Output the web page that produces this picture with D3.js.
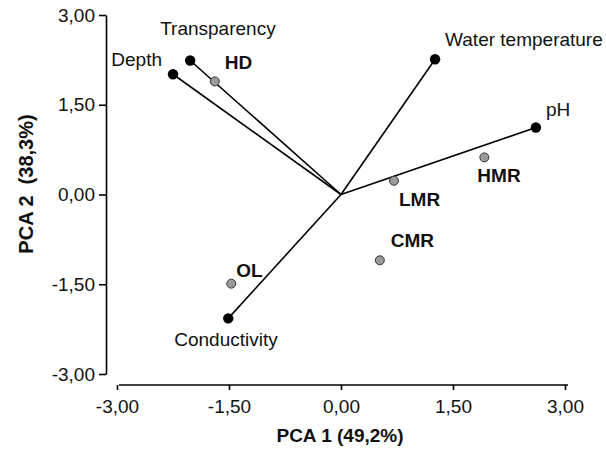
<!DOCTYPE html>
<html>
<head>
<meta charset="utf-8">
<script src="https://cdn.jsdelivr.net/npm/d3@7"></script>
<style>
  body { margin: 0; background: #fff; }
  text { font-family: "Liberation Sans", Arial, sans-serif; }
</style>
</head>
<body>
<div id="plot"></div>
<script>
const W = 606, H = 449;

// Data: variable loadings (black, with vectors) and sites (grey)
const variables = ["Depth", "Transparency", "Water temperature", "pH", "Conductivity"];
const varPC1 = [-2.25, -2.02, 1.26, 2.61, -1.51];
const varPC2 = [2.01, 2.24, 2.26, 1.12, -2.07];

const sites = ["HD", "HMR", "LMR", "CMR", "OL"];
const sitePC1 = [-1.69, 1.92, 0.71, 0.52, -1.47];
const sitePC2 = [1.89, 0.62, 0.23, -1.10, -1.49];

const ticks = [-3, -1.5, 0, 1.5, 3];

// label placement (pixel offsets from each point)
const labelPos = {
  "Depth": [-11, -8, "end"],
  "Transparency": [-30, -25, "start"],
  "Water temperature": [10, -13, "start"],
  "pH": [10, -11, "start"],
  "Conductivity": [-54, 28, "start"],
  "HD": [10, -12, "start"],
  "HMR": [-7, 25, "start"],
  "LMR": [5, 25, "start"],
  "CMR": [11, -13, "start"],
  "OL": [5, -7, "start"]
};

const svg = d3.select("#plot")
  .append("svg")
    .attr("width", W)
    .attr("height", H);

const x = d3.scaleLinear().domain([-3, 3]).range([117, 565]);
const y = d3.scaleLinear().domain([-3, 3]).range([374, 15]);

const fmt = d => d3.format(".2f")(d).replace(".", ",").replace("\u2212", "-");

// X axis
const xAxis = svg.append("g")
  .attr("transform", "translate(0,385)")
  .call(d3.axisBottom(x).tickValues(ticks).tickFormat(fmt).tickSize(5).tickSizeOuter(0).tickPadding(10));

// Y axis
const yAxis = svg.append("g")
  .attr("transform", "translate(106,0)")
  .call(d3.axisLeft(y).tickValues(ticks).tickFormat(fmt).tickSize(7).tickSizeOuter(0).tickPadding(4));

[xAxis, yAxis].forEach(g => {
  g.selectAll("path, line").attr("stroke", "#000").attr("stroke-width", 1.6);
  g.selectAll("text").attr("fill", "#111").style("font-size", "19px");
});
xAxis.select(".domain").attr("d", "M119,0H568");

// Axis titles
svg.append("text")
  .attr("x", 340).attr("y", 442)
  .attr("text-anchor", "middle")
  .style("font-size", "19px").style("font-weight", "bold")
  .attr("fill", "#111")
  .text("PCA 1 (49,2%)");

svg.append("text")
  .attr("transform", "translate(33,184) rotate(-90)")
  .attr("text-anchor", "middle")
  .style("font-size", "20px").style("font-weight", "bold")
  .attr("fill", "#111")
  .style("white-space", "pre")
  .text("PCA 2  (38,3%)");

const varData = variables.map((name, i) => ({ name, pc1: varPC1[i], pc2: varPC2[i] }));
const siteData = sites.map((name, i) => ({ name, pc1: sitePC1[i], pc2: sitePC2[i] }));

// Vectors from origin
svg.selectAll(".vec")
  .data(varData)
  .join("line")
    .attr("class", "vec")
    .attr("x1", x(0)).attr("y1", y(0))
    .attr("x2", d => x(d.pc1)).attr("y2", d => y(d.pc2))
    .attr("stroke", "#000")
    .attr("stroke-width", 1.6);

// Site points
svg.selectAll(".site")
  .data(siteData)
  .join("circle")
    .attr("class", "site")
    .attr("cx", d => x(d.pc1)).attr("cy", d => y(d.pc2))
    .attr("r", 4.5)
    .attr("fill", "#9a9a9a")
    .attr("stroke", "#333")
    .attr("stroke-width", 1);

// Variable points
svg.selectAll(".var")
  .data(varData)
  .join("circle")
    .attr("class", "var")
    .attr("cx", d => x(d.pc1)).attr("cy", d => y(d.pc2))
    .attr("r", 5.2)
    .attr("fill", "#000");

// Labels
svg.selectAll(".vlab")
  .data(varData)
  .join("text")
    .attr("class", "vlab")
    .attr("x", d => x(d.pc1) + labelPos[d.name][0])
    .attr("y", d => y(d.pc2) + labelPos[d.name][1])
    .attr("text-anchor", d => labelPos[d.name][2])
    .style("font-size", "19px")
    .attr("fill", "#111")
    .text(d => d.name);

svg.selectAll(".slab")
  .data(siteData)
  .join("text")
    .attr("class", "slab")
    .attr("x", d => x(d.pc1) + labelPos[d.name][0])
    .attr("y", d => y(d.pc2) + labelPos[d.name][1])
    .attr("text-anchor", d => labelPos[d.name][2])
    .style("font-size", "19px")
    .style("font-weight", "bold")
    .attr("fill", "#111")
    .text(d => d.name);
</script>
</body>
</html>
